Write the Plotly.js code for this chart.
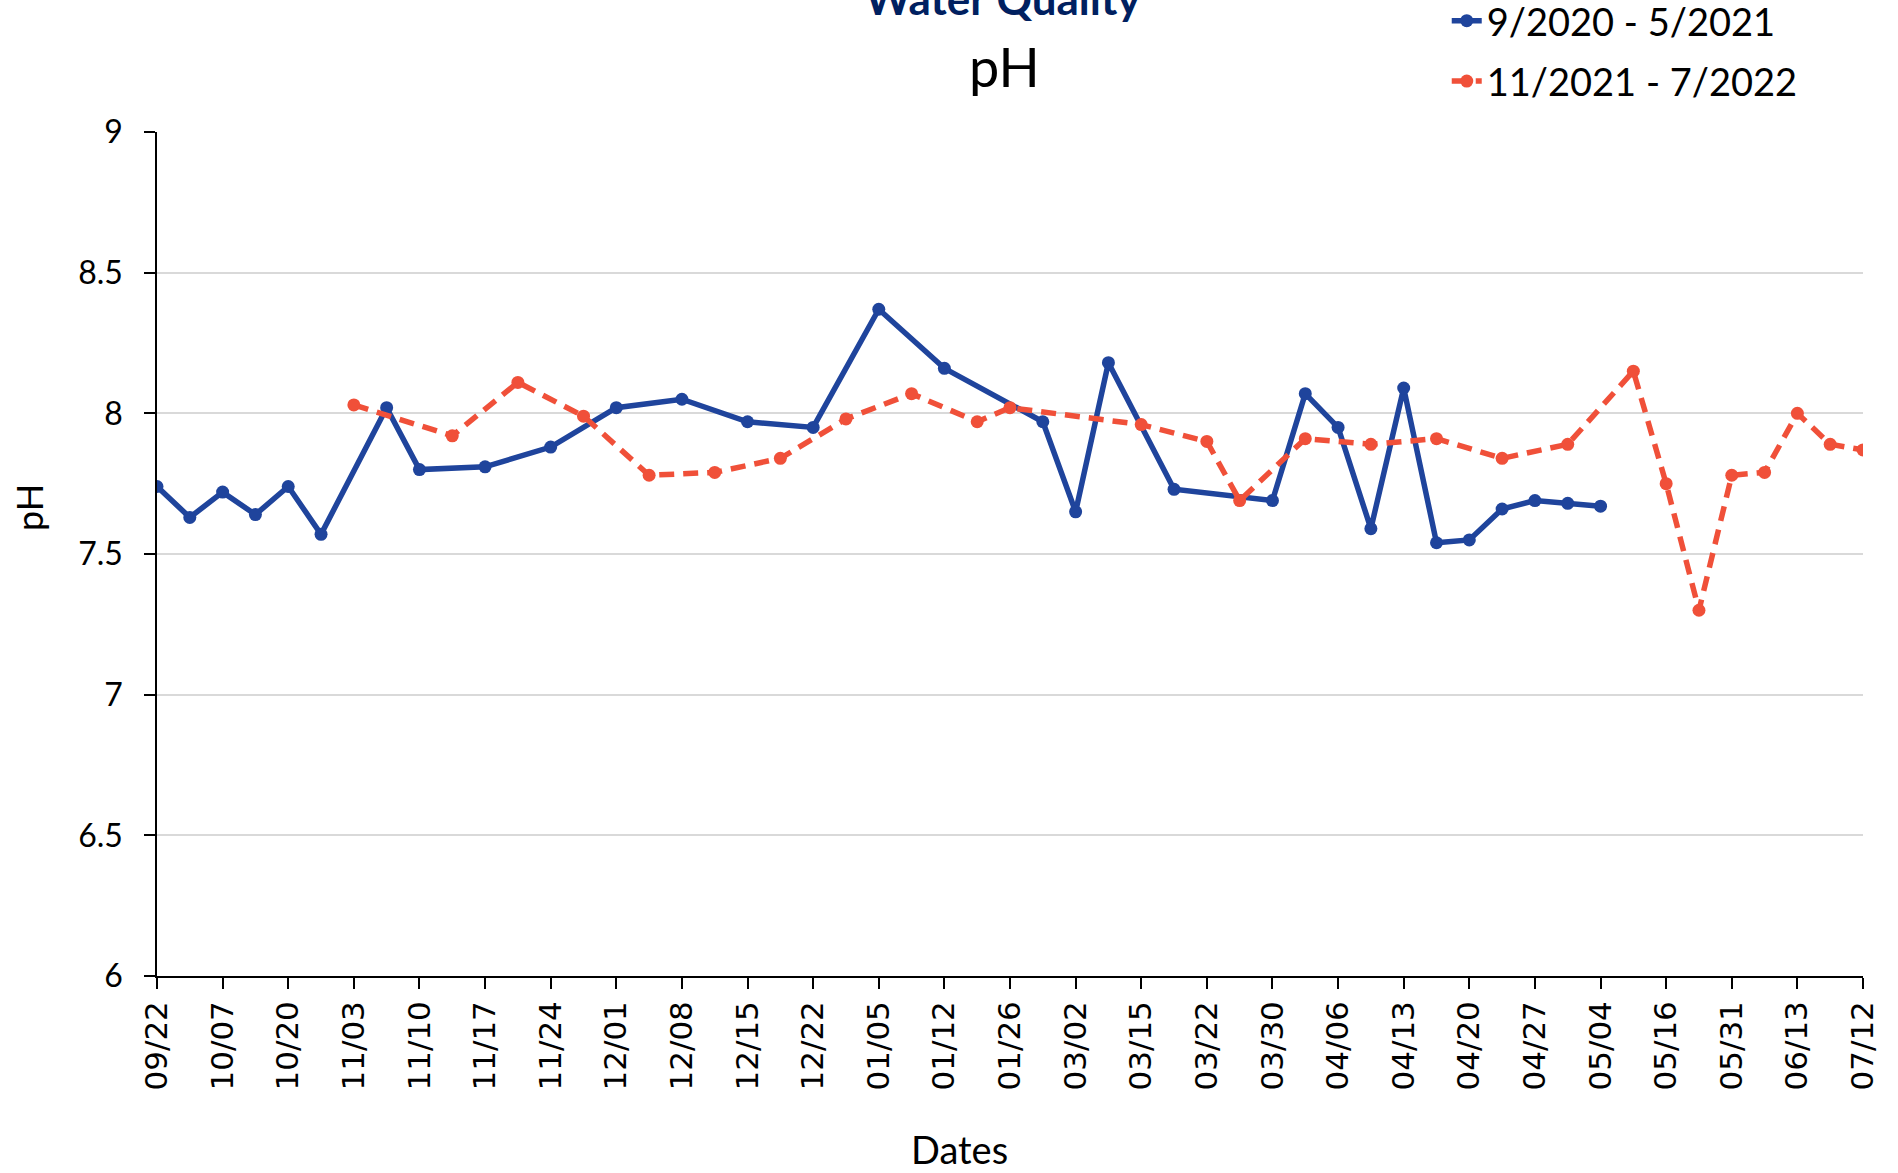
<!DOCTYPE html>
<html>
<head>
<meta charset="utf-8">
<script src="https://cdn.plot.ly/plotly-3.0.1.min.js"></script>
<style>html,body{margin:0;padding:0;background:#fff;}#chart{width:1898px;height:1173px;}</style>
</head>
<body>
<div id="chart"></div>
<script>
// Visible category labels (every second sampling date is labelled on the axis)
const tickLabels = ["09/22","10/07","10/20","11/03","11/10","11/17","11/24","12/01","12/08","12/15","12/22","01/05","01/12","01/26","03/02","03/15","03/22","03/30","04/06","04/13","04/20","04/27","05/04","05/16","05/31","06/13","07/12"];

// pH readings per category slot (53 slots, null = no reading)
const series1Name = "9/2020 - 5/2021";
const series1 = [7.74,7.63,7.72,7.64,7.74,7.57,null,8.02,7.80,null,
                 7.81,null,7.88,null,8.02,null,8.05,null,7.97,null,
                 7.95,null,8.37,null,8.16,null,null,7.97,7.65,8.18,
                 null,7.73,null,null,7.69,8.07,7.95,7.59,8.09,7.54,
                 7.55,7.66,7.69,7.68,7.67,null,null,null,null,null,
                 null,null,null];
const series2Name = "11/2021 - 7/2022";
const series2 = [null,null,null,null,null,null,8.03,null,null,7.92,
                 null,8.11,null,7.99,null,7.78,null,7.79,null,7.84,
                 null,7.98,null,8.07,null,7.97,8.02,null,null,null,
                 7.96,null,7.90,7.69,null,7.91,null,7.89,null,7.91,
                 null,7.84,null,7.89,null,8.15,7.75,7.30,7.78,7.79,
                 8.00,7.89,7.87];

const slots = series1.map((_, i) => i);
const tickVals = tickLabels.map((_, i) => i * 2);

const FONT = "Lato, 'Open Sans', sans-serif";

const traces = [
  {
    x: slots, y: series1, name: series1Name, type: "scatter", mode: "lines+markers",
    connectgaps: true, legendgroup: "a",
    line: {color: "#1F449C", width: 5.5},
    marker: {color: "#1F449C", size: 13}
  },
  {
    x: slots, y: series2, name: series2Name, type: "scatter", mode: "lines+markers",
    connectgaps: true, legendgroup: "b",
    line: {color: "#F05039", width: 5.5, dash: "15px,9px"},
    marker: {color: "#F05039", size: 13}
  }
];

const layout = {
  width: 1898, height: 1173,
  margin: {l: 157, r: 35, t: 132, b: 197, pad: 0},
  paper_bgcolor: "#ffffff", plot_bgcolor: "#ffffff",
  font: {family: FONT, color: "#000000"},
  showlegend: true,
  legend: {
    xref: "paper", yref: "container",
    x: 0.756, y: 1 - 51 / 1173, xanchor: "left", yanchor: "middle",
    font: {family: FONT, size: 38, color: "#000000"},
    traceorder: "grouped", tracegroupgap: 8,
    bgcolor: "rgba(0,0,0,0)", itemwidth: 30
  },
  xaxis: {
    range: [0, 52], tickmode: "array", tickvals: tickVals, ticktext: tickLabels,
    tickangle: -90, ticks: "outside", ticklen: 11, tickwidth: 1.5, tickcolor: "#000",
    showline: true, linecolor: "#000", linewidth: 1.5,
    showgrid: false, zeroline: false,
    tickfont: {family: "'DejaVu Sans', sans-serif", size: 31, color: "#000"}
  },
  yaxis: {
    range: [6, 9], dtick: 0.5, tick0: 6, ticks: "outside", ticklen: 11, tickwidth: 1.5, tickcolor: "#000",
    showline: true, linecolor: "#000", linewidth: 1.5,
    showgrid: true, gridcolor: "#D9D9D9", gridwidth: 1.5, zeroline: false,
    tickfont: {family: FONT, size: 32, color: "#000"},
    ticklabelstandoff: 15
  },
  annotations: [
    {text: "<b>Water Quality</b>", xref: "paper", yref: "paper", x: 0.496, y: (976 - 26) / 844,
     xanchor: "center", yanchor: "bottom", showarrow: false,
     font: {family: FONT, size: 44, color: "#002060"}},
    {text: "pH", xref: "paper", yref: "paper", x: 0.497, y: (976 - 66) / 844,
     xanchor: "center", yanchor: "middle", showarrow: false,
     font: {family: FONT, size: 54, color: "#000"}},
    {text: "pH", xref: "paper", yref: "paper", x: (29 - 157) / 1706, y: (976 - 508) / 844,
     xanchor: "center", yanchor: "middle", showarrow: false, textangle: -90,
     font: {family: FONT, size: 36, color: "#000"}},
    {text: "Dates", xref: "paper", yref: "paper", x: (959 - 157) / 1706, y: (976 - 1149) / 844,
     xanchor: "center", yanchor: "middle", showarrow: false,
     font: {family: FONT, size: 38, color: "#000"}}
  ]
};

Plotly.newPlot("chart", traces, layout, {displayModeBar: false, responsive: false});
</script>
</body>
</html>
